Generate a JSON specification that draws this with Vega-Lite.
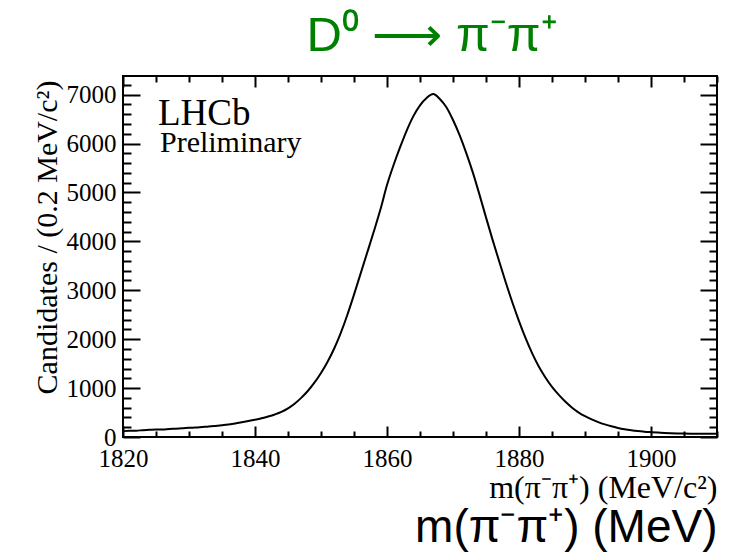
{
  "$schema": "https://vega.github.io/schema/vega-lite/v6.json",
  "width": 594,
  "height": 361,
  "autosize": "none",
  "padding": {"left": 123, "top": 76, "right": 14, "bottom": 118},
  "background": "white",
  "config": {
    "view": {"stroke": "black", "strokeWidth": 2},
    "axis": {"grid": false, "domain": false, "tickColor": "black", "tickWidth": 2, "labelColor": "black", "titleColor": "black", "titleFontWeight": "normal"}
  },
  "title": {
    "text": "D⁰ ⟶ π⁻π⁺",
    "color": "#008000",
    "font": "Liberation Sans",
    "fontSize": 49,
    "fontWeight": "normal",
    "anchor": "middle",
    "dx": 12,
    "offset": -27,
    "baseline": "alphabetic"
  },
  "data": {
    "values": [
      {"m": 1820, "n": 120}, {"m": 1821, "n": 130}, {"m": 1822, "n": 130}, {"m": 1823, "n": 140}, {"m": 1824, "n": 146},
      {"m": 1825, "n": 153}, {"m": 1826, "n": 153}, {"m": 1827, "n": 164}, {"m": 1828, "n": 170}, {"m": 1829, "n": 178},
      {"m": 1830, "n": 188}, {"m": 1831, "n": 192}, {"m": 1832, "n": 203}, {"m": 1833, "n": 213}, {"m": 1834, "n": 226},
      {"m": 1835, "n": 240}, {"m": 1836, "n": 256}, {"m": 1837, "n": 276}, {"m": 1838, "n": 300}, {"m": 1839, "n": 325},
      {"m": 1840, "n": 352}, {"m": 1841, "n": 382}, {"m": 1842, "n": 418}, {"m": 1843, "n": 460}, {"m": 1844, "n": 512},
      {"m": 1845, "n": 585}, {"m": 1846, "n": 680}, {"m": 1847, "n": 800}, {"m": 1848, "n": 940}, {"m": 1849, "n": 1110},
      {"m": 1850, "n": 1310}, {"m": 1851, "n": 1540}, {"m": 1852, "n": 1810}, {"m": 1853, "n": 2130}, {"m": 1854, "n": 2500},
      {"m": 1855, "n": 2910}, {"m": 1856, "n": 3340}, {"m": 1857, "n": 3770}, {"m": 1858, "n": 4200}, {"m": 1859, "n": 4650},
      {"m": 1860, "n": 5150}, {"m": 1861, "n": 5560}, {"m": 1862, "n": 5930}, {"m": 1863, "n": 6270}, {"m": 1864, "n": 6560},
      {"m": 1865, "n": 6780}, {"m": 1866, "n": 6930}, {"m": 1867, "n": 7010}, {"m": 1868, "n": 6910}, {"m": 1869, "n": 6740},
      {"m": 1870, "n": 6480}, {"m": 1871, "n": 6170}, {"m": 1872, "n": 5810}, {"m": 1873, "n": 5410}, {"m": 1874, "n": 4960},
      {"m": 1875, "n": 4490}, {"m": 1876, "n": 4030}, {"m": 1877, "n": 3590}, {"m": 1878, "n": 3160}, {"m": 1879, "n": 2750},
      {"m": 1880, "n": 2370}, {"m": 1881, "n": 2020}, {"m": 1882, "n": 1710}, {"m": 1883, "n": 1440}, {"m": 1884, "n": 1215},
      {"m": 1885, "n": 1025}, {"m": 1886, "n": 865}, {"m": 1887, "n": 725}, {"m": 1888, "n": 605}, {"m": 1889, "n": 505},
      {"m": 1890, "n": 425}, {"m": 1891, "n": 360}, {"m": 1892, "n": 305}, {"m": 1893, "n": 258}, {"m": 1894, "n": 218},
      {"m": 1895, "n": 186}, {"m": 1896, "n": 160}, {"m": 1897, "n": 139}, {"m": 1898, "n": 122}, {"m": 1899, "n": 109},
      {"m": 1900, "n": 99}, {"m": 1901, "n": 90}, {"m": 1902, "n": 83}, {"m": 1903, "n": 77}, {"m": 1904, "n": 73},
      {"m": 1905, "n": 70}, {"m": 1906, "n": 68}, {"m": 1907, "n": 67}, {"m": 1908, "n": 66}, {"m": 1909, "n": 65},
      {"m": 1910, "n": 64}
    ]
  },
  "resolve": {"axis": {"x": "independent", "y": "independent"}},
  "layer": [
    {
      "mark": {"type": "line", "color": "black", "strokeWidth": 2, "interpolate": "monotone"},
      "encoding": {
        "x": {
          "field": "m", "type": "quantitative",
          "scale": {"domain": [1820, 1910], "nice": false, "zero": false},
          "axis": {
            "orient": "bottom",
            "values": [1820, 1825, 1830, 1835, 1840, 1845, 1850, 1855, 1860, 1865, 1870, 1875, 1880, 1885, 1890, 1895, 1900, 1905, 1910],
            "format": "d",
            "labelExpr": "datum.value % 20 === 0 ? datum.label : ''",
            "tickSize": {"condition": {"test": "datum.value % 20 === 0", "value": -11}, "value": -6},
            "labelFont": "Liberation Serif", "labelFontSize": 25, "labelPadding": 20,
            "labelFlush": false, "labelOverlap": false,
            "title": "m(π⁻π⁺)  (MeV/c²)",
            "titleFont": "Liberation Serif", "titleFontSize": 32,
            "titleAnchor": "end", "titleAlign": "right", "titleBaseline": "alphabetic", "titleY": 60
          }
        },
        "y": {
          "field": "n", "type": "quantitative",
          "scale": {"domain": [0, 7380], "nice": false, "zero": true},
          "axis": {
            "orient": "left",
            "values": [0, 200, 400, 600, 800, 1000, 1200, 1400, 1600, 1800, 2000, 2200, 2400, 2600, 2800, 3000, 3200, 3400, 3600, 3800, 4000, 4200, 4400, 4600, 4800, 5000, 5200, 5400, 5600, 5800, 6000, 6200, 6400, 6600, 6800, 7000, 7200],
            "format": "d",
            "labelExpr": "datum.value % 1000 === 0 ? datum.label : ''",
            "tickSize": {"condition": {"test": "datum.value % 1000 === 0", "value": -17}, "value": -8},
            "labelFont": "Liberation Serif", "labelFontSize": 25, "labelPadding": 24,
            "labelFlush": false, "labelOverlap": false,
            "title": "Candidates / (0.2 MeV/c²)",
            "titleFont": "Liberation Serif", "titleFontSize": 30,
            "titleAngle": -90, "titleAlign": "right", "titleBaseline": "alphabetic",
            "titleX": -67, "titleY": 4
          }
        }
      }
    },
    {
      "data": {"values": [{}]},
      "mark": {"type": "text", "text": "LHCb", "font": "Liberation Serif", "fontSize": 37, "align": "left", "baseline": "alphabetic", "color": "black"},
      "encoding": {
        "x": {
          "datum": 1825.3, "type": "quantitative",
          "scale": {"domain": [1820, 1910], "nice": false, "zero": false},
          "axis": {
            "orient": "top",
            "values": [1820, 1825, 1830, 1835, 1840, 1845, 1850, 1855, 1860, 1865, 1870, 1875, 1880, 1885, 1890, 1895, 1900, 1905, 1910],
            "labels": false, "title": null,
            "tickSize": {"condition": {"test": "datum.value % 20 === 0", "value": -11}, "value": -6}
          }
        },
        "y": {
          "datum": 6378, "type": "quantitative",
          "scale": {"domain": [0, 7380], "nice": false, "zero": true},
          "axis": {
            "orient": "right",
            "values": [0, 200, 400, 600, 800, 1000, 1200, 1400, 1600, 1800, 2000, 2200, 2400, 2600, 2800, 3000, 3200, 3400, 3600, 3800, 4000, 4200, 4400, 4600, 4800, 5000, 5200, 5400, 5600, 5800, 6000, 6200, 6400, 6600, 6800, 7000, 7200],
            "labels": false, "title": null,
            "tickSize": {"condition": {"test": "datum.value % 1000 === 0", "value": -17}, "value": -8}
          }
        }
      }
    },
    {
      "data": {"values": [{}]},
      "mark": {"type": "text", "text": "Preliminary", "font": "Liberation Serif", "fontSize": 30, "align": "left", "baseline": "alphabetic", "color": "black"},
      "encoding": {
        "x": {
          "datum": 1825.6, "type": "quantitative",
          "scale": {"domain": [1820, 1910], "nice": false, "zero": false},
          "axis": {
            "orient": "bottom",
            "labels": false, "ticks": false, "domain": false,
            "title": "m(π⁻π⁺) (MeV)",
            "titleFont": "Liberation Sans", "titleFontSize": 46,
            "titleAnchor": "end", "titleAlign": "right", "titleBaseline": "alphabetic", "titleY": 104
          }
        },
        "y": {
          "datum": 5827, "type": "quantitative",
          "scale": {"domain": [0, 7380], "nice": false, "zero": true},
          "axis": null
        }
      }
    }
  ]
}
